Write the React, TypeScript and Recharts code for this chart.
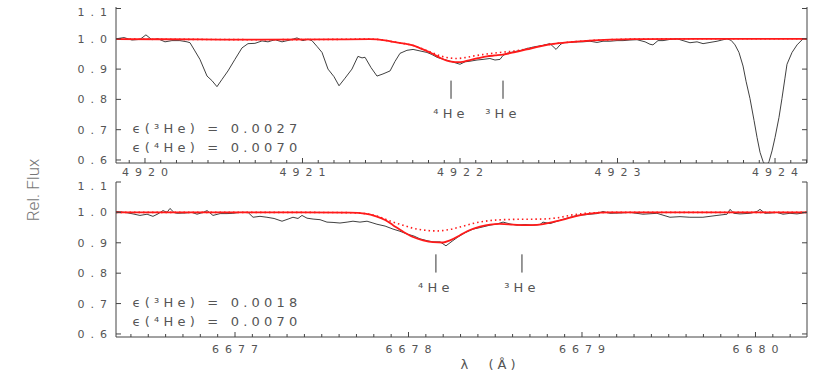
import { LineChart, Line, XAxis, YAxis, ReferenceLine, ReferenceDot } from "recharts";

type Pt = [number, number];

// 4922 panel: observed spectrum and two model fits (wavelength, relative flux)
const TOP_OBSERVED: Pt[] = [
  [4919.816, 1.0], [4919.867, 1.004], [4919.917, 0.996], [4919.968, 0.998], [4920.006, 1.013],
  [4920.044, 0.997], [4920.083, 1.0], [4920.127, 0.99], [4920.171, 0.994], [4920.222, 0.994],
  [4920.267, 0.99], [4920.286, 0.987], [4920.317, 0.96], [4920.349, 0.932], [4920.394, 0.877],
  [4920.425, 0.862], [4920.457, 0.842], [4920.489, 0.866], [4920.527, 0.894], [4920.571, 0.932],
  [4920.616, 0.97], [4920.654, 0.984], [4920.698, 0.985], [4920.743, 0.993], [4920.781, 0.99],
  [4920.825, 0.997], [4920.87, 0.99], [4920.921, 0.996], [4920.965, 1.003], [4921.003, 0.994],
  [4921.035, 0.999], [4921.06, 0.994], [4921.092, 0.975], [4921.124, 0.955], [4921.162, 0.9],
  [4921.2, 0.875], [4921.232, 0.845], [4921.27, 0.87], [4921.314, 0.9], [4921.352, 0.942],
  [4921.378, 0.937], [4921.397, 0.939], [4921.435, 0.905], [4921.473, 0.877], [4921.511, 0.884],
  [4921.556, 0.894], [4921.587, 0.925], [4921.619, 0.952], [4921.663, 0.962], [4921.702, 0.965],
  [4921.746, 0.96], [4921.79, 0.955], [4921.822, 0.948], [4921.854, 0.939], [4921.898, 0.932],
  [4921.937, 0.926], [4921.956, 0.923], [4921.981, 0.919], [4922.0, 0.916], [4922.032, 0.924],
  [4922.063, 0.926], [4922.108, 0.93], [4922.146, 0.932], [4922.19, 0.935], [4922.222, 0.93],
  [4922.254, 0.932], [4922.273, 0.945], [4922.298, 0.952], [4922.349, 0.958], [4922.387, 0.962],
  [4922.425, 0.968], [4922.476, 0.974], [4922.521, 0.978], [4922.571, 0.984], [4922.59, 0.975],
  [4922.61, 0.965], [4922.635, 0.98], [4922.654, 0.987], [4922.698, 0.988], [4922.743, 0.99],
  [4922.781, 0.99], [4922.825, 0.992], [4922.87, 0.988], [4922.908, 0.992], [4922.952, 0.992],
  [4922.997, 0.994], [4923.035, 0.994], [4923.079, 0.996], [4923.124, 0.997], [4923.175, 0.99],
  [4923.206, 0.982], [4923.225, 0.98], [4923.257, 0.994], [4923.289, 0.994], [4923.333, 0.998],
  [4923.378, 1.0], [4923.416, 0.994], [4923.46, 0.987], [4923.505, 0.99], [4923.543, 0.984],
  [4923.587, 0.988], [4923.632, 0.992], [4923.663, 0.996], [4923.695, 1.0], [4923.721, 0.995],
  [4923.746, 0.98], [4923.771, 0.955], [4923.797, 0.91], [4923.816, 0.86], [4923.841, 0.803],
  [4923.867, 0.73], [4923.886, 0.674], [4923.905, 0.625], [4923.924, 0.595], [4923.943, 0.58],
  [4923.962, 0.595], [4923.981, 0.63], [4924.0, 0.674], [4924.025, 0.74], [4924.044, 0.803],
  [4924.063, 0.87], [4924.076, 0.916], [4924.108, 0.955], [4924.14, 0.98], [4924.178, 1.0],
  [4924.203, 1.0],
];

const TOP_MODEL: Pt[] = [
  [4919.816, 0.999], [4920.349, 0.998], [4920.73, 0.997], [4921.175, 0.998], [4921.429, 0.999],
  [4921.524, 0.995], [4921.575, 0.99], [4921.638, 0.985], [4921.702, 0.978], [4921.765, 0.965],
  [4921.829, 0.95], [4921.879, 0.936], [4921.917, 0.928], [4921.956, 0.924], [4921.987, 0.923],
  [4922.025, 0.925], [4922.063, 0.93], [4922.114, 0.936], [4922.171, 0.942], [4922.222, 0.945],
  [4922.273, 0.948], [4922.349, 0.956], [4922.425, 0.965], [4922.508, 0.975], [4922.59, 0.983],
  [4922.698, 0.989], [4922.825, 0.994], [4922.952, 0.997], [4923.098, 0.999], [4923.524, 1.0],
  [4924.203, 1.0],
];

const TOP_MODEL_ALT: Pt[] = [
  [4919.816, 0.999], [4920.349, 0.998], [4920.73, 0.997], [4921.175, 0.998], [4921.429, 0.999],
  [4921.524, 0.995], [4921.575, 0.99], [4921.638, 0.985], [4921.702, 0.978], [4921.765, 0.966],
  [4921.829, 0.953], [4921.879, 0.943], [4921.917, 0.938], [4921.981, 0.935], [4922.032, 0.938],
  [4922.095, 0.944], [4922.171, 0.95], [4922.254, 0.955], [4922.349, 0.96], [4922.425, 0.967],
  [4922.508, 0.976], [4922.59, 0.983], [4922.698, 0.989], [4922.825, 0.994], [4922.952, 0.997],
  [4923.098, 0.999], [4923.524, 1.0], [4924.203, 1.0],
];

// 6678 panel
const BOTTOM_OBSERVED: Pt[] = [
  [6676.314, 1.003], [6676.366, 1.0], [6676.412, 0.995], [6676.452, 0.99], [6676.493, 0.994],
  [6676.527, 0.987], [6676.556, 0.995], [6676.585, 1.006], [6676.608, 1.0], [6676.625, 1.013],
  [6676.648, 1.0], [6676.666, 0.997], [6676.712, 0.998], [6676.752, 1.0], [6676.781, 0.994],
  [6676.816, 1.0], [6676.839, 1.006], [6676.873, 0.99], [6676.914, 0.996], [6676.954, 0.996],
  [6676.988, 0.997], [6677.029, 1.0], [6677.075, 1.0], [6677.104, 0.984], [6677.144, 0.987],
  [6677.184, 0.984], [6677.225, 0.98], [6677.271, 0.971], [6677.306, 0.978], [6677.334, 0.984],
  [6677.363, 0.98], [6677.386, 0.99], [6677.415, 0.981], [6677.45, 0.978], [6677.49, 0.976],
  [6677.53, 0.968], [6677.565, 0.967], [6677.605, 0.965], [6677.646, 0.968], [6677.68, 0.971],
  [6677.72, 0.968], [6677.761, 0.971], [6677.79, 0.966], [6677.818, 0.961], [6677.865, 0.955],
  [6677.911, 0.945], [6677.951, 0.938], [6677.991, 0.929], [6678.032, 0.922], [6678.066, 0.913],
  [6678.107, 0.907], [6678.141, 0.903], [6678.182, 0.903], [6678.216, 0.89], [6678.251, 0.905],
  [6678.285, 0.919], [6678.326, 0.933], [6678.372, 0.945], [6678.412, 0.95], [6678.47, 0.958],
  [6678.51, 0.962], [6678.545, 0.968], [6678.585, 0.962], [6678.625, 0.958], [6678.671, 0.96],
  [6678.718, 0.958], [6678.758, 0.96], [6678.775, 0.968], [6678.816, 0.963], [6678.856, 0.971],
  [6678.914, 0.981], [6678.971, 0.99], [6679.017, 0.992], [6679.046, 0.994], [6679.086, 0.996],
  [6679.121, 1.003], [6679.161, 0.997], [6679.219, 0.998], [6679.277, 1.0], [6679.352, 0.994],
  [6679.432, 0.997], [6679.507, 0.984], [6679.565, 0.986], [6679.622, 0.984], [6679.697, 0.984],
  [6679.778, 0.99], [6679.836, 0.994], [6679.853, 1.01], [6679.876, 0.997], [6679.911, 0.995],
  [6679.968, 0.997], [6680.009, 1.003], [6680.026, 1.01], [6680.055, 0.997], [6680.089, 0.998],
  [6680.124, 1.0], [6680.159, 0.994], [6680.199, 0.997], [6680.239, 0.995], [6680.297, 1.0],
];

const BOTTOM_MODEL: Pt[] = [
  [6676.314, 1.0], [6677.375, 1.0], [6677.663, 0.999], [6677.749, 0.996], [6677.818, 0.986],
  [6677.865, 0.975], [6677.911, 0.958], [6677.968, 0.937], [6678.026, 0.919], [6678.084, 0.908],
  [6678.141, 0.902], [6678.199, 0.901], [6678.239, 0.908], [6678.297, 0.925], [6678.354, 0.942],
  [6678.412, 0.953], [6678.47, 0.96], [6678.527, 0.962], [6678.602, 0.96], [6678.671, 0.958],
  [6678.741, 0.959], [6678.816, 0.966], [6678.89, 0.976], [6678.96, 0.987], [6679.046, 0.996],
  [6679.161, 1.0], [6680.297, 1.0],
];

const BOTTOM_MODEL_ALT: Pt[] = [
  [6676.314, 1.0], [6677.375, 1.0], [6677.663, 0.999], [6677.749, 0.996], [6677.818, 0.988],
  [6677.865, 0.978], [6677.911, 0.968], [6677.968, 0.958], [6678.026, 0.948], [6678.084, 0.942],
  [6678.164, 0.939], [6678.239, 0.944], [6678.297, 0.952], [6678.383, 0.965], [6678.47, 0.973],
  [6678.602, 0.977], [6678.758, 0.978], [6678.856, 0.982], [6678.948, 0.992], [6679.046, 0.998],
  [6679.161, 1.0], [6680.297, 1.0],
];

const TOP_RANGE: Pt = [4919.816, 4924.203];
const BOTTOM_RANGE: Pt = [6676.314, 6680.297];
const FLUX_TICKS = [0.6, 0.7, 0.8, 0.9, 1.0, 1.1];

// isotope line positions
const TOP_HE4 = 4921.943;
const TOP_HE3 = 4922.273;
const BOTTOM_HE4 = 6678.158;
const BOTTOM_HE3 = 6678.654;

const TOP_EPS = ["0.0027", "0.0070"];
const BOTTOM_EPS = ["0.0018", "0.0070"];

const FRAME = "#444";
const TEXT = "#555";
const FONT = "'DejaVu Sans', sans-serif";

// every 0.1 A between the frame edges
function tenthTicks(lo: number, hi: number) {
  const out: number[] = [];
  for (let k = Math.ceil(lo * 10); k <= Math.floor(hi * 10); k++) out.push(k / 10);
  return out;
}

const isMajor = (v: number) => Math.abs(v - Math.round(v)) < 1e-6;
const rows = (pts: Pt[]) => pts.map(([w, f]) => ({ w, f }));

function BottomTick(props: any) {
  const { x, y, payload, labelOffset } = props;
  const major = isMajor(payload.value);
  return (
    <g>
      <line x1={x} x2={x} y1={y} y2={y - (major ? 5 : 3)} stroke={FRAME} />
      {major && (
        <text
          x={x + 3}
          y={y + labelOffset}
          textAnchor="middle"
          fill={TEXT}
          fontSize={11}
          fontFamily={FONT}
          style={{ letterSpacing: 6 }}
        >
          {Math.round(payload.value)}
        </text>
      )}
    </g>
  );
}

function TopTick(props: any) {
  const { x, y, payload } = props;
  return <line x1={x} x2={x} y1={y} y2={y + (isMajor(payload.value) ? 5 : 3)} stroke={FRAME} />;
}

function LeftTick(props: any) {
  const { x, y, payload } = props;
  // the top label sits a little below its tick, as in the original plot
  const shift = payload.value > 1.05 ? 4 : 0;
  return (
    <g>
      <line x1={x} x2={x + 5} y1={y} y2={y} stroke={FRAME} />
      <text
        x={x - 3}
        y={y + shift}
        dy="0.36em"
        textAnchor="end"
        fill={TEXT}
        fontSize={11}
        fontFamily={FONT}
        style={{ letterSpacing: 6 }}
      >
        {payload.value.toFixed(1)}
      </text>
    </g>
  );
}

function RightTick(props: any) {
  const { x, y } = props;
  return <line x1={x} x2={x - 5} y1={y} y2={y} stroke={FRAME} />;
}

function Note({ cx, cy, value, anchor }: any) {
  return (
    <text
      x={cx}
      y={cy}
      dy="0.36em"
      textAnchor={anchor}
      fill={TEXT}
      fontSize={13}
      fontFamily={FONT}
      style={{ letterSpacing: 4.2 }}
    >
      {value}
    </text>
  );
}

interface PanelProps {
  height: number;
  marginTop: number;
  axisHeight: number;
  labelOffset: number;
  range: Pt;
  yDomain: Pt;
  observed: Pt[];
  model: Pt[];
  modelAlt: Pt[];
  he4: number;
  he3: number;
  eps: string[];
}

function Panel(p: PanelProps) {
  const ticks = tenthTicks(p.range[0], p.range[1]);
  const noteX = p.range[0] + (p.range[1] - p.range[0]) * 0.024;
  const ids = { xAxisId: "b", yAxisId: "l" };
  return (
    <LineChart width={822} height={p.height} margin={{ top: p.marginTop, right: 0, bottom: 0, left: 0 }}>
      <XAxis
        xAxisId="b"
        type="number"
        dataKey="w"
        domain={p.range}
        allowDataOverflow
        ticks={ticks}
        interval={0}
        tickSize={0}
        tickMargin={0}
        tickLine={false}
        height={p.axisHeight}
        axisLine={{ stroke: FRAME }}
        tick={<BottomTick labelOffset={p.labelOffset} />}
      />
      <XAxis
        xAxisId="t"
        orientation="top"
        type="number"
        dataKey="w"
        domain={p.range}
        allowDataOverflow
        ticks={ticks}
        interval={0}
        tickSize={0}
        tickMargin={0}
        tickLine={false}
        height={0}
        axisLine={{ stroke: FRAME }}
        tick={<TopTick />}
      />
      <YAxis
        yAxisId="l"
        type="number"
        domain={p.yDomain}
        allowDataOverflow
        ticks={FLUX_TICKS}
        interval={0}
        tickSize={0}
        tickMargin={0}
        tickLine={false}
        width={116}
        axisLine={{ stroke: FRAME }}
        tick={<LeftTick />}
      />
      <YAxis
        yAxisId="r"
        orientation="right"
        type="number"
        domain={p.yDomain}
        allowDataOverflow
        ticks={FLUX_TICKS}
        interval={0}
        tickSize={0}
        tickMargin={0}
        tickLine={false}
        width={15}
        axisLine={{ stroke: FRAME }}
        tick={<RightTick />}
      />
      <Line {...ids} data={rows(p.observed)} dataKey="f" type="linear" stroke="#2a2a2a" strokeWidth={0.9} dot={false} isAnimationActive={false} />
      <Line {...ids} data={rows(p.modelAlt)} dataKey="f" type="monotone" stroke="#ff1a1a" strokeWidth={1.6} strokeDasharray="1.5 3" dot={false} isAnimationActive={false} />
      <Line {...ids} data={rows(p.model)} dataKey="f" type="monotone" stroke="#ff1a1a" strokeWidth={1.8} dot={false} isAnimationActive={false} />
      <ReferenceLine {...ids} segment={[{ x: p.he4, y: 0.862 }, { x: p.he4, y: 0.802 }]} stroke="#333" />
      <ReferenceLine {...ids} segment={[{ x: p.he3, y: 0.862 }, { x: p.he3, y: 0.802 }]} stroke="#333" />
      <ReferenceDot {...ids} x={p.he4} y={0.755} r={0} shape={(s: any) => <Note {...s} value="⁴He" anchor="middle" />} />
      <ReferenceDot {...ids} x={p.he3} y={0.755} r={0} shape={(s: any) => <Note {...s} value="³He" anchor="middle" />} />
      <ReferenceDot {...ids} x={noteX} y={0.705} r={0} shape={(s: any) => <Note {...s} value={`ϵ(³He) = ${p.eps[0]}`} anchor="start" />} />
      <ReferenceDot {...ids} x={noteX} y={0.642} r={0} shape={(s: any) => <Note {...s} value={`ϵ(⁴He) = ${p.eps[1]}`} anchor="start" />} />
    </LineChart>
  );
}

export default function App() {
  return (
    <div style={{ position: "absolute", left: 0, top: 0, width: 822, height: 371, background: "#fff", overflow: "hidden" }}>
      <Panel
        height={181}
        marginTop={7}
        axisHeight={18}
        labelOffset={13}
        range={TOP_RANGE}
        yDomain={[0.59, 1.105]}
        observed={TOP_OBSERVED}
        model={TOP_MODEL}
        modelAlt={TOP_MODEL_ALT}
        he4={TOP_HE4}
        he3={TOP_HE3}
        eps={TOP_EPS}
      />
      <Panel
        height={190}
        marginTop={1}
        axisHeight={34}
        labelOffset={16}
        range={BOTTOM_RANGE}
        yDomain={[0.59, 1.1]}
        observed={BOTTOM_OBSERVED}
        model={BOTTOM_MODEL}
        modelAlt={BOTTOM_MODEL_ALT}
        he4={BOTTOM_HE4}
        he3={BOTTOM_HE3}
        eps={BOTTOM_EPS}
      />
      <div
        style={{
          position: "absolute",
          left: 33,
          top: 190,
          transform: "translate(-50%, -50%) rotate(-90deg)",
          fontFamily: "Roboto, sans-serif",
          fontWeight: 300,
          fontSize: 17,
          color: "#777",
          whiteSpace: "nowrap",
        }}
      >
        Rel. Flux
      </div>
      <div
        style={{
          position: "absolute",
          left: 490,
          top: 364,
          transform: "translate(-50%, -50%)",
          fontFamily: FONT,
          fontSize: 13,
          color: TEXT,
          letterSpacing: 4,
          whiteSpace: "pre",
        }}
      >
        {"λ  (Å)"}
      </div>
    </div>
  );
}
